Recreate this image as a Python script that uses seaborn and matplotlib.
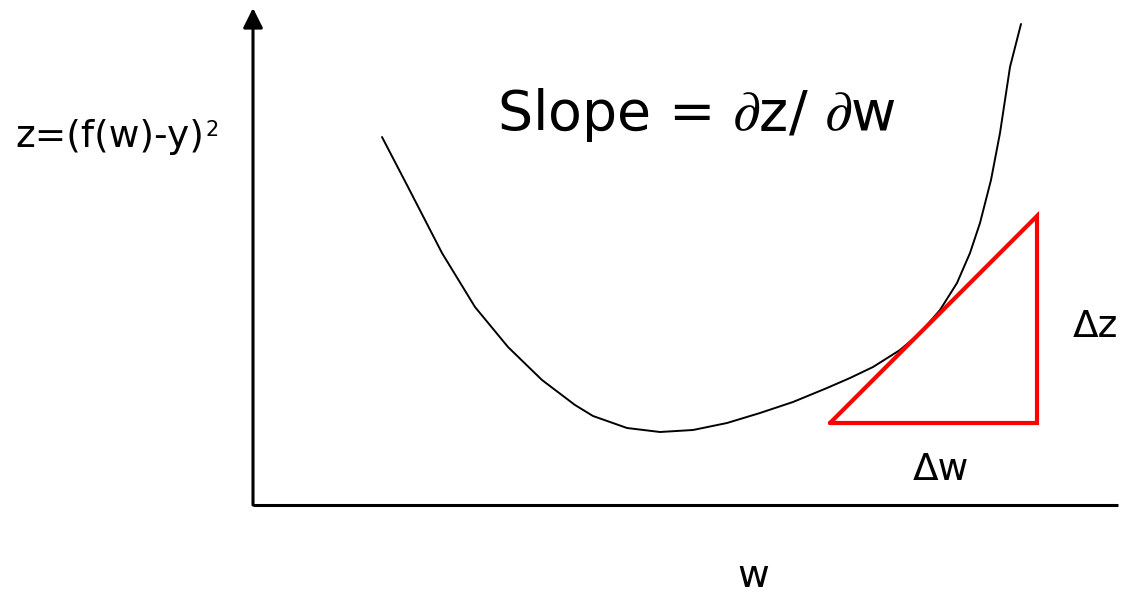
import matplotlib
matplotlib.use("Agg")
import matplotlib.pyplot as plt
import seaborn as sns
import pandas as pd

# Curve z(w) (arbitrary units)
curve_w = [1.29, 1.55, 1.89, 2.22, 2.55, 2.89, 3.22, 3.40, 3.74, 4.07, 4.40, 4.74, 5.07,
           5.40, 5.74, 5.97, 6.20, 6.47, 6.67, 6.87, 7.04, 7.17, 7.27, 7.38, 7.47, 7.57, 7.68]
curve_z = [3.68, 3.18, 2.52, 1.98, 1.58, 1.25, 1.00, 0.89, 0.77, 0.73, 0.75, 0.82, 0.92,
           1.03, 1.17, 1.27, 1.38, 1.55, 1.72, 1.95, 2.22, 2.52, 2.82, 3.25, 3.72, 4.38, 4.81]

# Slope triangle
tri_w = [5.77, 7.84, 7.84, 5.77]
tri_z = [0.82, 2.89, 0.82, 0.82]

# Texts
y_label = "z=(f(w)-y)"
y_label_sup = "2"
x_label = "w"
slope_label = r"Slope = $\partial$z/ $\partial$w"
dz_label = "\u0394z"
dw_label = "\u0394w"

sns.set_theme(style="white")
plt.rcParams["font.family"] = ["DejaVu Sans"]
plt.rcParams["mathtext.fontset"] = "stix"

fig = plt.figure(figsize=(11.33, 5.95), dpi=100)
ax = fig.add_axes([0, 0, 1, 1])
ax.set_xlim(-2.53, 8.80)
ax.set_ylim(-0.90, 5.05)
ax.axis("off")

curve = pd.DataFrame({"w": curve_w, "z": curve_z})
sns.lineplot(data=curve, x="w", y="z", ax=ax, color="black", linewidth=1.4,
             sort=False, estimator=None)

tri = pd.DataFrame({"w": tri_w, "z": tri_z, "g": [0, 0, 0, 0]})
sns.lineplot(data=tri, x="w", y="z", ax=ax, color="#ff0000", linewidth=3.0,
             sort=False, estimator=None, units="g", solid_joinstyle="miter")

# Axes
ax.annotate("", xy=(0, 4.97), xytext=(0, 0),
            arrowprops=dict(arrowstyle="-|>,head_length=1.0,head_width=0.5",
                            mutation_scale=12, lw=2.2, color="black",
                            shrinkA=0, shrinkB=0))
ax.plot([0, 8.65], [0, 0], color="black", lw=2.2, solid_capstyle="butt")

t = ax.text(-2.38, 3.58, y_label, fontsize=27, ha="left", va="baseline", color="black")
ax.annotate(y_label_sup, xy=(1, 1), xycoords=t, xytext=(1, -1),
            textcoords="offset points", fontsize=15, ha="left", va="top", color="black")
ax.text(2.44, 3.75, slope_label, fontsize=40, ha="left", va="baseline", color="black")
ax.text(8.20, 1.68, dz_label, fontsize=27, ha="left", va="baseline", color="black")
ax.text(6.60, 0.25, dw_label, fontsize=27, ha="left", va="baseline", color="black")
ax.text(5.00, -0.82, x_label, fontsize=28, ha="center", va="baseline", color="black")

fig.savefig("out.png", dpi=100)
